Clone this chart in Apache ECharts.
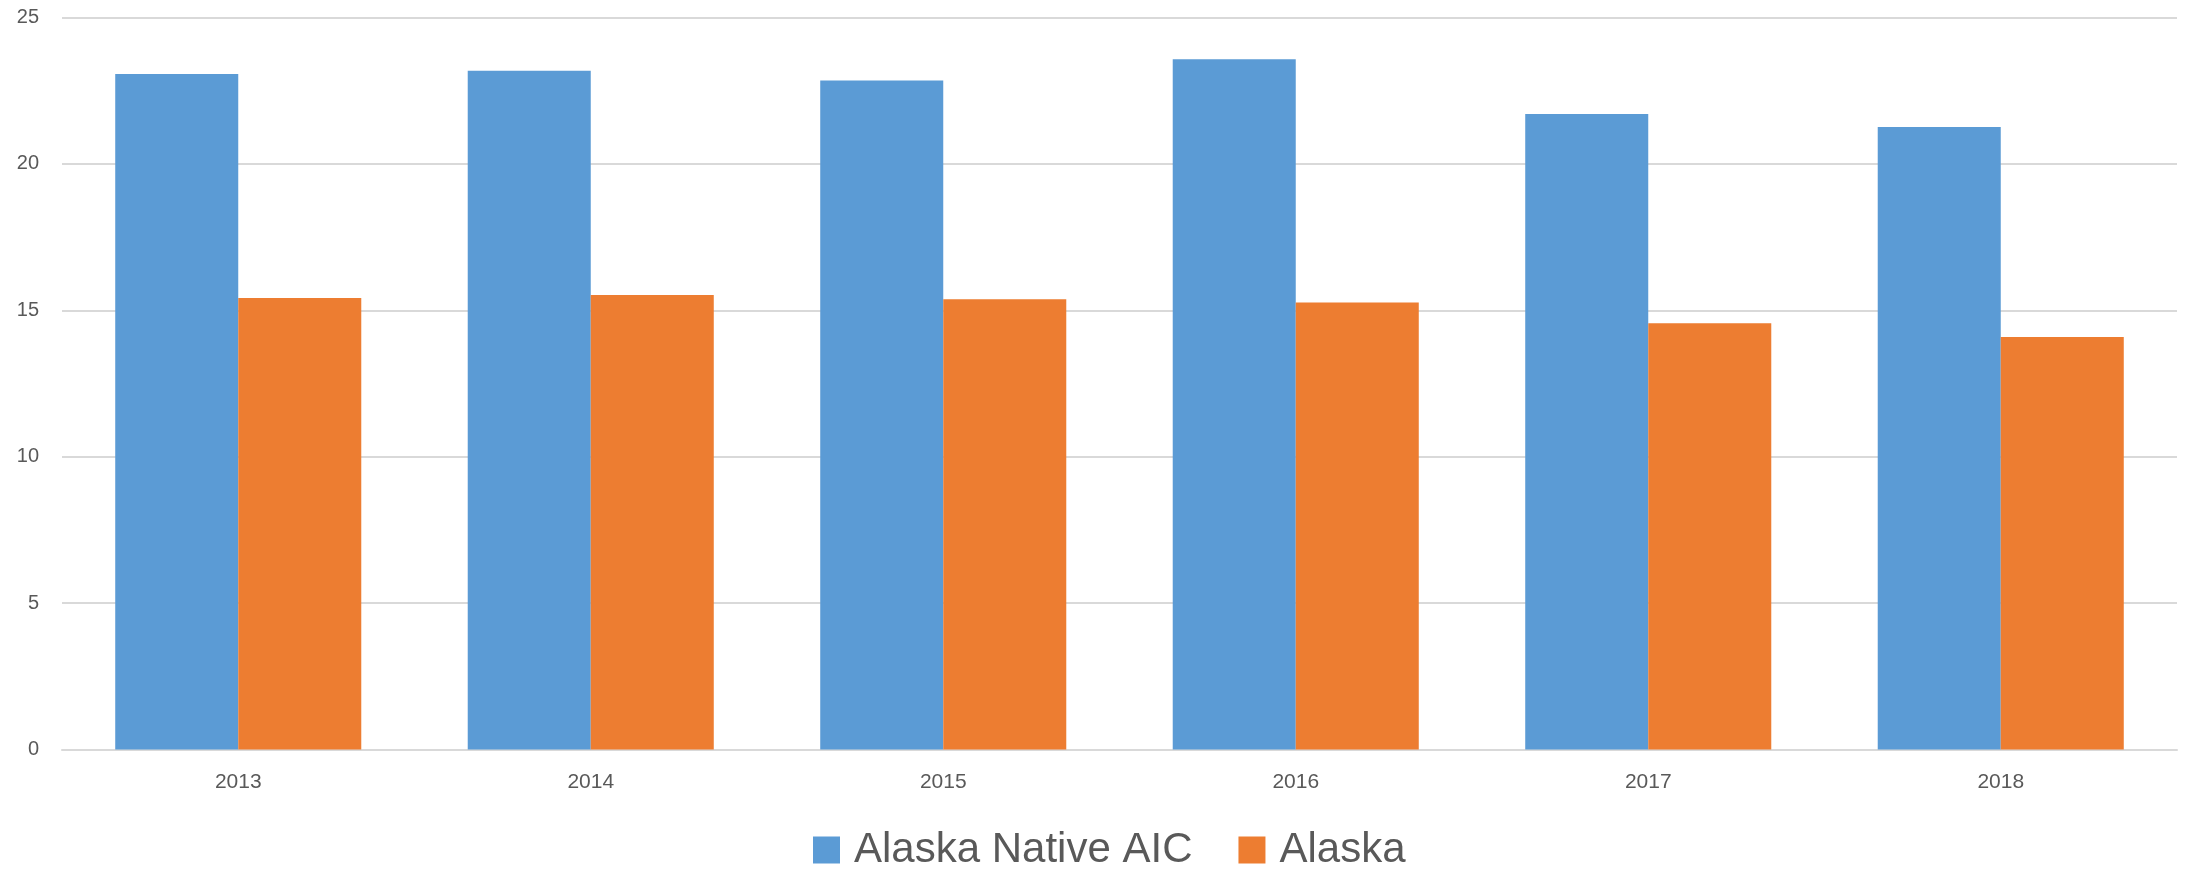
<!DOCTYPE html>
<html>
<head>
<meta charset="utf-8">
<script src="https://cdn.jsdelivr.net/npm/echarts@6/dist/echarts.min.js"></script>
<style>
  html, body { margin: 0; padding: 0; background: #fff; }
  #chart { width: 2190px; height: 869px; }
</style>
</head>
<body>
<div id="chart"></div>
<script>
const categories = ['2013', '2014', '2015', '2016', '2017', '2018'];
const nativeAIC = [23.07, 23.18, 22.85, 23.57, 21.70, 21.26];
const alaska = [15.42, 15.52, 15.38, 15.27, 14.56, 14.09];
const seriesNames = ['Alaska Native AIC', 'Alaska'];

const chart = echarts.init(document.getElementById('chart'), null, { renderer: 'canvas' });
const font = '"Liberation Sans", Arial, sans-serif';
chart.setOption({
  animation: false,
  backgroundColor: '#ffffff',
  textStyle: { fontFamily: font },
  grid: { left: 62, right: 13, top: 17.5, bottom: 119.5, containLabel: false },
  legend: {
    data: seriesNames,
    bottom: -7,
    left: 808,
    itemWidth: 27,
    itemHeight: 27,
    itemGap: 46,
    icon: 'rect',
    textStyle: { fontSize: 42, color: '#595959', fontFamily: font, padding: [0, 0, 0, 9] }
  },
  xAxis: {
    type: 'category',
    data: categories,
    axisLine: { show: true, lineStyle: { color: '#d9d9d9', width: 2 } },
    axisTick: { show: false },
    axisLabel: { color: '#595959', fontSize: 21, margin: 22, fontFamily: font }
  },
  yAxis: {
    type: 'value',
    min: 0,
    max: 25,
    interval: 5,
    axisLine: { show: false },
    axisTick: { show: false },
    splitLine: { lineStyle: { color: '#d9d9d9', width: 2 } },
    axisLabel: { color: '#595959', fontSize: 20, margin: 23, fontFamily: font }
  },
  series: [
    {
      name: seriesNames[0],
      type: 'bar',
      data: nativeAIC,
      itemStyle: { color: '#5B9BD5' },
      barGap: '0%',
      barCategoryGap: '30.2%'
    },
    {
      name: seriesNames[1],
      type: 'bar',
      data: alaska,
      itemStyle: { color: '#ED7D31' },
      barGap: '0%',
      barCategoryGap: '30.2%'
    }
  ]
});
</script>
</body>
</html>
